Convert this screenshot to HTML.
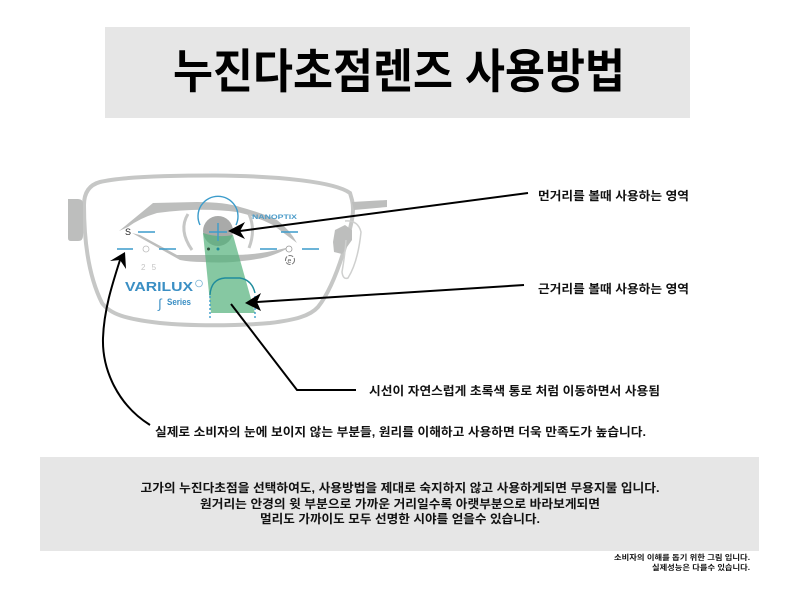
<!DOCTYPE html>
<html lang="ko">
<head>
<meta charset="utf-8">
<style>
html,body{margin:0;padding:0;background:#fff}
svg{display:block}
text{font-family:"Liberation Sans","Noto Sans CJK KR",sans-serif}
.k{font-weight:700;fill:#111}
</style>
</head>
<body>
<svg width="800" height="600" viewBox="0 0 800 600" xmlns="http://www.w3.org/2000/svg">
<rect width="800" height="600" fill="#fff"/>
<rect x="105" y="27" width="585" height="91" fill="#e6e6e6"/>
<text x="399" y="88" text-anchor="middle" class="k" font-size="47" textLength="452" lengthAdjust="spacingAndGlyphs" style="fill:#000">누진다초점렌즈 사용방법</text>

<!-- frame -->
<path d="M350 193 C335 182 280 176 215 175.500 C165 175.500 120 177 100 182 C89 185 84 193 84 205 C84 240 88 275 102 303 C110 314 125 319 160 323 C190 326 235 326 270 323 C295 320 310 316 318 307 C330 292 340 265 347 240 C351 225 355 212 352 200 Z" fill="none" stroke="#c6c7c6" stroke-width="4"/>
<path d="M68 199 h10 q5 0 5 5 v32 q0 5 -5 5 h-7 q-3 0 -3 -3 Z" fill="#bdbebd"/>
<path d="M352 202 L387 200 L387 207 L354 210 Z" fill="#bdbebd"/>
<path d="M333 242 L335 230 L345 225 L352 230 L352 240 L342 254 L334 252 Z" fill="#bdbebd"/>
<path d="M345 221 Q358 220 361 232 Q358 262 348 278 Q343 280 342 272 Q345 255 346 240" fill="none" stroke="#cfd0cf" stroke-width="1.5"/>

<!-- eye -->
<path d="M119 231 L153 203 L197 202 Q225 202 240 207 Q262 213 277 220 Q290 230 297 243 Q285 234 273 225 Q255 216 237 212 Q200 207 157 213 Q140 218 128 227 Z" fill="#bdbebd"/>
<path d="M132 233 L180 260 Q190 262 203 262 Q220 263 233 262 Q255 260 267 257 Q280 253 290 247 Q278 250 267 252 Q250 255 233 255 L203 255 Q190 255 177 255 L140 235 Z" fill="#bdbebd"/>
<path d="M188 214 Q178 230 192 250" fill="none" stroke="#c6c7c6" stroke-width="3"/>
<path d="M249 214 Q256 230 249 248" fill="none" stroke="#c6c7c6" stroke-width="3"/>
<circle cx="218" cy="231" r="15" fill="#a9aaa9"/>

<!-- green corridor -->
<path d="M203 233 Q218 238 233 235 L255 313 L211 313 Z" fill="#52b07a" fill-opacity=".7"/>

<!-- lens markings -->
<g stroke="#3c9ccb" stroke-width="1.4" fill="none">
<path d="M200 225 A20 20 0 1 1 236 225"/>
<path d="M209 232 H227 M218 223 V241"/>
<path d="M138 232 H155 M117 249 H133 M159 249 H176 M281 232 H298 M260 249 H277 M302 249 H319"/>
</g>
<path d="M210 295 Q211 279 225 278 L240 278 Q252 280 255 293" fill="none" stroke="#1f8c9c" stroke-width="1.4"/>
<path d="M210 296 V318 M255 296 V318" stroke="#3c9ccb" stroke-width="1.4" stroke-dasharray="2 2" fill="none"/>
<circle cx="208.500" cy="249" r="1.500" fill="#2c4a3a"/>
<circle cx="218" cy="249" r="1.500" fill="#1f8c9c"/>
<circle cx="146" cy="249" r="3" fill="#fff" stroke="#bbb" stroke-width=".8"/>
<circle cx="289" cy="249" r="3" fill="#fff" stroke="#999" stroke-width=".8"/>
<circle cx="290" cy="260" r="4.500" fill="none" stroke="#777" stroke-width="1" stroke-dasharray="5 1.500"/>
<text x="287.500" y="263" font-size="7" fill="#666">e</text>
<text x="125" y="235" font-size="9" fill="#222">S</text>
<text x="141" y="270" font-size="8" fill="#c4c4c4" letter-spacing="2">2 5</text>
<text x="125" y="291" font-size="13" font-weight="700" fill="#3b8fc4" textLength="68" lengthAdjust="spacingAndGlyphs">VARILUX</text>
<circle cx="199" cy="283.500" r="3.400" fill="none" stroke="#7db5d6" stroke-width=".8"/>
<text x="167" y="305" font-size="9" font-weight="700" fill="#3b8fc4" textLength="24" lengthAdjust="spacingAndGlyphs">Series</text>
<text x="158" y="308" font-size="13" font-style="italic" fill="#3b8fc4">∫</text>
<text x="252" y="219" font-size="6.500" font-weight="700" fill="#4a9bc9" textLength="45" lengthAdjust="spacingAndGlyphs">NANOPTIX</text>

<!-- arrows -->
<g stroke="#000" stroke-width="2" fill="none">
<path d="M528 193 L240 231"/>
<path d="M524 285 L257 302"/>
<path d="M231 304 L297 390 H356"/>
<path d="M150 425 C118 405 102 370 103 338 C104 310 112 285 120 260"/>
</g>
<g fill="#000">
<path d="M228 231 L245 222 L240 231 L245 239 Z"/>
<path d="M245 303 L261 293 L257 302 L261 311 Z"/>
<path d="M125 252 L126 269 L120 260 L110 261 Z"/>
</g>

<!-- labels -->
<text x="538" y="200" class="k" font-size="12" textLength="151" lengthAdjust="spacingAndGlyphs">먼거리를 볼때 사용하는 영역</text>
<text x="538" y="293" class="k" font-size="12" textLength="151" lengthAdjust="spacingAndGlyphs">근거리를 볼때 사용하는 영역</text>
<text x="369" y="395" class="k" font-size="12" textLength="291" lengthAdjust="spacingAndGlyphs">시선이 자연스럽게 초록색 통로 처럼 이동하면서 사용됨</text>
<text x="155" y="436" class="k" font-size="12" textLength="491" lengthAdjust="spacingAndGlyphs">실제로 소비자의 눈에 보이지 않는 부분들, 원리를 이해하고 사용하면 더욱 만족도가 높습니다.</text>

<rect x="40" y="457" width="719" height="94" fill="#e6e6e6"/>
<text x="400" y="492" text-anchor="middle" class="k" font-size="12" textLength="519" lengthAdjust="spacingAndGlyphs">고가의 누진다초점을 선택하여도, 사용방법을 제대로 숙지하지 않고 사용하게되면 무용지물 입니다.</text>
<text x="400" y="508" text-anchor="middle" class="k" font-size="12" textLength="400" lengthAdjust="spacingAndGlyphs">원거리는 안경의 윗 부분으로 가까운 거리일수록 아랫부분으로 바라보게되면</text>
<text x="400" y="523" text-anchor="middle" class="k" font-size="12" textLength="280" lengthAdjust="spacingAndGlyphs">멀리도 가까이도 모두 선명한 시야를 얻을수 있습니다.</text>
<text x="750" y="560" text-anchor="end" class="k" font-size="7.500" textLength="136" lengthAdjust="spacingAndGlyphs">소비자의 이해를 돕기 위한 그림 입니다.</text>
<text x="750" y="570" text-anchor="end" class="k" font-size="7.500" textLength="98" lengthAdjust="spacingAndGlyphs">실제성능은 다를수 있습니다.</text>
</svg>
</body>
</html>
